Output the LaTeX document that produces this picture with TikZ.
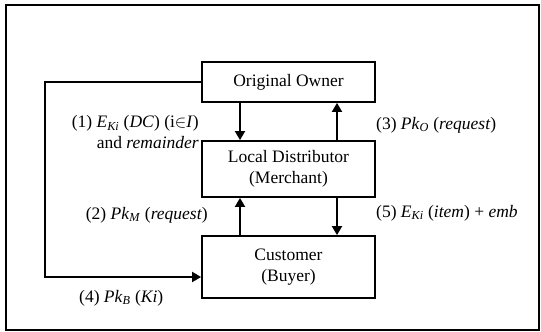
\documentclass[tikz,border=0pt]{standalone}
\usepackage{fontspec}
\setmainfont{Liberation Serif}
\usetikzlibrary{arrows.meta}
\begin{document}
\begin{tikzpicture}[x=1pt, y=-1pt,
    font=\fontsize{17.5}{21}\selectfont,
    box/.style={rectangle, draw=black, line width=1.8pt, minimum width=173pt, align=center, inner sep=2pt},
    lbl/.style={inner sep=0pt},
    arr/.style={line width=1.8pt, -{Triangle[length=9pt, width=10pt]}}]
  \useasboundingbox (0,0) rectangle (541,332);
  \draw[line width=1.8pt] (6,5) rectangle (539,330);
  \node[box, minimum height=40pt] at (288.5,82) (owner) {Original Owner};
  \node[box, minimum height=56pt] at (288.5,169) (distr) {Local Distributor\\(Merchant)};
  \node[box, minimum height=62pt] at (288.5,267) (cust) {Customer\\(Buyer)};
  \draw[arr] ([xshift=-48.5pt]owner.south) -- ([xshift=-48.5pt]distr.north);
  \draw[arr] ([xshift=48.5pt]distr.north) -- ([xshift=48.5pt]owner.south);
  \draw[arr] ([xshift=-48.5pt]cust.north) -- ([xshift=-48.5pt]distr.south);
  \draw[arr] ([xshift=48.5pt]distr.south) -- ([xshift=48.5pt]cust.north);
  \draw[arr] (owner.west) -- ++(-156,0) |- ([yshift=-10pt]cust.west);
  \node[lbl, align=right, anchor=east] at (199,132.5) (l1)
    {(1) \textit{E}\textsubscript{\textit{Ki}} (\textit{DC}) (i$\in$\textit{I})\\and \textit{remainder}};
  \node[lbl, anchor=east] at (208,215) (l2) {(2) \textit{Pk}\textsubscript{\textit{M}} (\textit{request})};
  \node[lbl, anchor=west] at (376,125) (l3) {(3) \textit{Pk}\textsubscript{\textit{O}} (\textit{request})};
  \node[lbl, anchor=west] at (79,298) (l4) {(4) \textit{Pk}\textsubscript{\textit{B}} (\textit{Ki})};
  \node[lbl, anchor=west] at (376,213) (l5) {(5) \textit{E}\textsubscript{\textit{Ki}} (\textit{item}) + \textit{emb}};
\end{tikzpicture}
\end{document}
